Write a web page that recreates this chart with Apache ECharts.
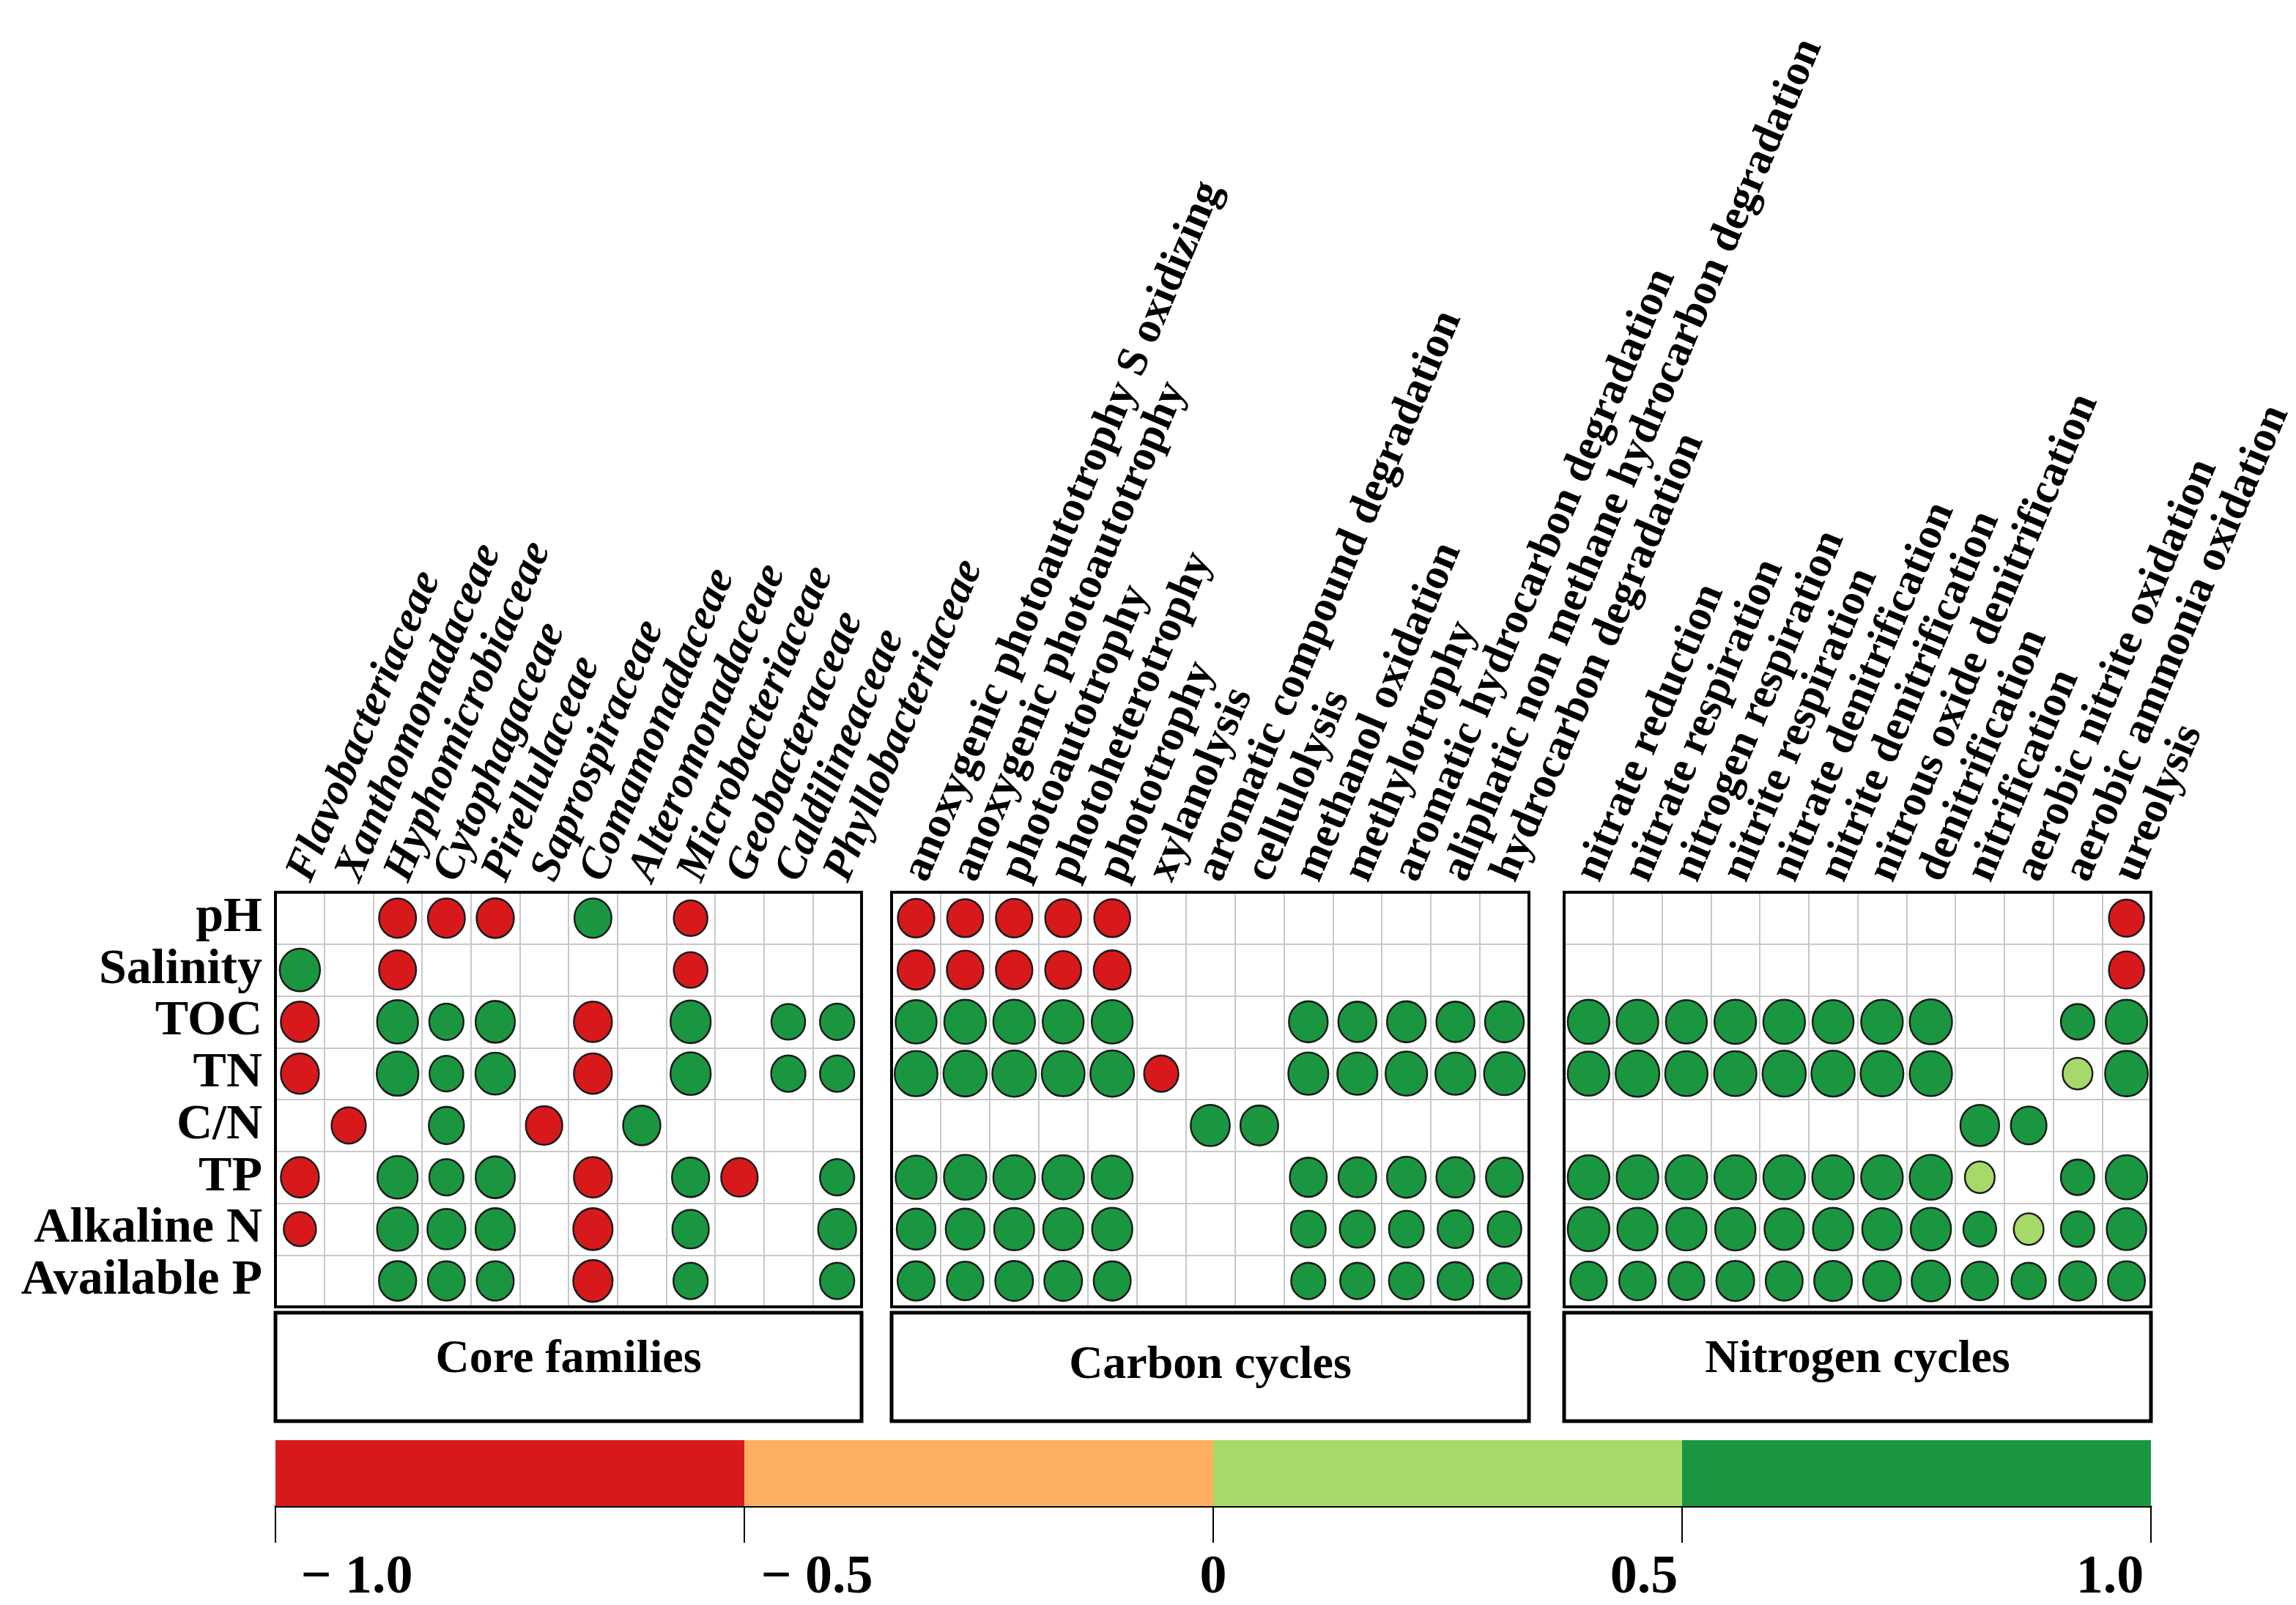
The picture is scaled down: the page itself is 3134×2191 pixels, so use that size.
<!DOCTYPE html>
<html><head><meta charset="utf-8">
<script src="https://cdn.jsdelivr.net/npm/echarts@6/dist/echarts.min.js"></script>
<style>html,body{margin:0;padding:0;background:#fff}#c{width:3134px;height:2191px}</style>
</head><body><div id="c"></div>
<script>
// ---------------- data ----------------
const rows = ['pH','Salinity','TOC','TN','C/N','TP','Alkaline N','Available P'];
const coreFamilies = ['Flavobacteriaceae','Xanthomonadaceae','Hyphomicrobiaceae','Cytophagaceae','Pirellulaceae','Saprospiraceae','Comamonadaceae','Alteromonadaceae','Microbacteriaceae','Geobacteraceae','Caldilineaceae','Phyllobacteriaceae'];
const carbonFunctions = ['anoxygenic photoautotrophy S oxidizing','anoxygenic photoautotrophy','photoautotrophy','photoheterotrophy','phototrophy','xylanolysis','aromatic compound degradation','cellulolysis','methanol oxidation','methylotrophy','aromatic hydrocarbon degradation','aliphatic non methane hydrocarbon degradation','hydrocarbon degradation'];
const nitrogenFunctions = ['nitrate reduction','nitrate respiration','nitrogen respiration','nitrite respiration','nitrate denitrification','nitrite denitrification','nitrous oxide denitrification','denitrification','nitrification','aerobic nitrite oxidation','aerobic ammonia oxidation','ureolysis'];
const _ = null;
const coreValues = [
  [_, _, -0.71, -0.71, -0.72, _, 0.71, _, -0.59, _, _, _],
  [0.84, _, -0.71, _, _, _, _, _, -0.59, _, _, _],
  [-0.75, _, 0.87, 0.61, 0.80, _, -0.75, _, 0.84, _, 0.59, 0.61],
  [-0.75, _, 0.90, 0.59, 0.81, _, -0.75, _, 0.84, _, 0.61, 0.61],
  [_, -0.61, _, 0.64, _, -0.69, _, 0.72, _, _, _, _],
  [-0.75, _, 0.84, 0.61, 0.80, _, -0.75, _, 0.72, -0.69, _, 0.61],
  [-0.54, _, 0.87, 0.75, 0.80, _, -0.80, _, 0.69, _, _, 0.75],
  [_, _, 0.72, 0.71, 0.71, _, -0.80, _, 0.61, _, _, 0.61]
];
const carbonValues = [
  [-0.69, -0.67, -0.69, -0.67, -0.67, _, _, _, _, _, _, _, _],
  [-0.71, -0.69, -0.69, -0.67, -0.71, _, _, _, _, _, _, _, _],
  [0.87, 0.90, 0.90, 0.87, 0.87, _, _, _, 0.78, 0.75, 0.78, 0.75, 0.78],
  [0.95, 0.97, 0.99, 0.95, 0.99, -0.61, _, _, 0.83, 0.83, 0.90, 0.83, 0.86],
  [_, _, _, _, _, _, 0.79, 0.74, _, _, _, _, _],
  [0.87, 0.93, 0.90, 0.90, 0.87, _, _, _, 0.71, 0.74, 0.78, 0.75, 0.71],
  [0.78, 0.78, 0.83, 0.83, 0.84, _, _, _, 0.63, 0.64, 0.63, 0.66, 0.59],
  [0.71, 0.69, 0.74, 0.74, 0.71, _, _, _, 0.61, 0.61, 0.63, 0.66, 0.61]
];
const nitrogenValues = [
  [_, _, _, _, _, _, _, _, _, _, _, -0.64],
  [_, _, _, _, _, _, _, _, _, _, _, -0.64],
  [0.90, 0.90, 0.87, 0.90, 0.90, 0.87, 0.90, 0.93, _, _, 0.58, 0.90],
  [0.90, 0.99, 0.93, 0.93, 0.97, 0.97, 0.95, 0.93, _, _, 0.46, 0.95],
  [_, _, _, _, _, _, _, _, 0.78, 0.66, _, _],
  [0.90, 0.90, 0.90, 0.90, 0.90, 0.90, 0.90, 0.93, 0.46, _, 0.58, 0.90],
  [0.90, 0.84, 0.84, 0.84, 0.80, 0.84, 0.81, 0.84, 0.56, 0.46, 0.58, 0.81],
  [0.69, 0.69, 0.67, 0.74, 0.71, 0.74, 0.74, 0.77, 0.69, 0.61, 0.71, 0.71]
];
const groupNames = ['Core families','Carbon cycles','Nitrogen cycles'];
const colorbarTicks = [-1, -0.5, 0, 0.5, 1];
const colorbarTickLabels = ['− 1.0','− 0.5','0','0.5','1.0'];
const colorbarPieces = [[-1, -0.5], [-0.5, 0], [0, 0.5], [0.5, 1]];
const pieceColors = ['#d7191c', '#fdae61', '#a6d96a', '#1a9641'];

// ---------------- layout ----------------
const FONT = 'Liberation Serif';
const TOP = 1218, HEIGHT = 566;
const panels = [
  {left: 376, width: 800, cols: coreFamilies, vals: coreValues, italic: true},
  {left: 1217, width: 870, cols: carbonFunctions, vals: carbonValues, italic: false},
  {left: 2135, width: 801, cols: nitrogenFunctions, vals: nitrogenValues, italic: false}
];
const MAXD = 60;

const grids = [], xAxes = [], yAxes = [], series = [], graphics = [];
panels.forEach((p, i) => {
  grids.push({left: p.left, top: TOP, width: p.width, height: HEIGHT, show: true,
    borderColor: '#000', borderWidth: 4, backgroundColor: '#fff', containLabel: false,
    outerBoundsMode: 'none'});
  xAxes.push({type: 'category', gridIndex: i, data: p.cols, position: 'top',
    axisLine: {show: false}, axisTick: {show: false},
    splitLine: {show: true, lineStyle: {color: '#c8c8c8', width: 2}},
    axisLabel: {interval: 0, rotate: -67, margin: 18, color: '#000', fontFamily: FONT,
      fontWeight: 'bold', fontStyle: p.italic ? 'italic' : 'normal', fontSize: 60}});
  yAxes.push({type: 'category', gridIndex: i, data: rows, inverse: true,
    axisLine: {show: false}, axisTick: {show: false},
    splitLine: {show: true, lineStyle: {color: '#c8c8c8', width: 2}},
    axisLabel: {show: i === 0, interval: 0, margin: 18, color: '#000', fontFamily: FONT,
      fontWeight: 'bold', fontSize: 68}});
  const cellW = p.width / p.cols.length, cellH = HEIGHT / rows.length;
  const ratio = cellH / cellW;
  const data = [];
  p.vals.forEach((row, r) => row.forEach((v, c) => { if (v !== null) data.push([c, r, v]); }));
  series.push({type: 'scatter', xAxisIndex: i, yAxisIndex: i, data: data,
    symbol: 'circle',
    symbolSize: function (val) { const d = MAXD * Math.sqrt(Math.abs(val[2])); return [d, d * ratio]; },
    itemStyle: {borderColor: '#1b1b1b', borderWidth: 2.5, opacity: 1},
    emphasis: {disabled: true}, silent: true, z: 5});
  // black panel frame on top of the split lines
  graphics.push({type: 'rect', z: 100, shape: {x: p.left, y: TOP, width: p.width, height: HEIGHT},
    style: {fill: null, stroke: '#000', lineWidth: 4}, silent: true});
  // group label box
  graphics.push({type: 'rect', shape: {x: p.left, y: 1792, width: p.width, height: 148},
    style: {fill: '#fff', stroke: '#000', lineWidth: 5}});
  graphics.push({type: 'text', x: p.left + p.width / 2, y: i === 1 ? 1864 : 1856,
    style: {text: groupNames[i], fill: '#000', font: 'bold 64px "' + FONT + '"',
      textAlign: 'center', textVerticalAlign: 'middle'}});
});

// colorbar grid
grids.push({left: 376, top: 1966, width: 2560, height: 90, show: false, outerBoundsMode: 'none'});
const richStyles = {
  l1: {padding: [0, 0, 0, 222]}, l2: {padding: [0, 0, 0, 198]}, c0: {},
  r1: {padding: [0, 104, 0, 0]}, r2: {padding: [0, 112, 0, 0]}
};
Object.values(richStyles).forEach(s => { s.fontSize = 74; s.fontWeight = 'bold'; s.fontFamily = FONT; s.color = '#000'; });
const richKeys = ['l1', 'l2', 'c0', 'r1', 'r2'];
xAxes.push({type: 'value', gridIndex: 3, min: -1, max: 1, interval: 0.5,
  axisLine: {show: true, lineStyle: {color: '#000', width: 3}},
  axisTick: {show: true, length: 50, lineStyle: {color: '#000', width: 2}},
  splitLine: {show: false},
  axisLabel: {margin: 62, formatter: function (v) {
    const k = colorbarTicks.findIndex(t => Math.abs(t - v) < 1e-9);
    return k < 0 ? '' : '{' + richKeys[k] + '|' + colorbarTickLabels[k] + '}';
  }, rich: richStyles}});
yAxes.push({type: 'value', gridIndex: 3, min: 0, max: 1, show: false});
series.push({type: 'custom', xAxisIndex: 3, yAxisIndex: 3, data: colorbarPieces, silent: true,
  encode: {x: [0, 1]},
  renderItem: function (params, api) {
    const a = api.coord([api.value(0), 1]);
    const b = api.coord([api.value(1), 0]);
    return {type: 'rect', shape: {x: a[0], y: a[1], width: b[0] - a[0], height: b[1] - a[1]},
      style: {fill: pieceColors[params.dataIndex]}};
  }, z: 1});

const chart = echarts.init(document.getElementById('c'), null, {renderer: 'canvas'});
chart.setOption({
  backgroundColor: '#fff',
  animation: false,
  grid: grids, xAxis: xAxes, yAxis: yAxes,
  visualMap: {type: 'piecewise', show: false, seriesIndex: [0, 1, 2], dimension: 2,
    pieces: colorbarPieces.map((pc, k) => ({min: pc[0], max: pc[1], color: pieceColors[k]}))},
  series: series,
  graphic: graphics
});
</script></body></html>
